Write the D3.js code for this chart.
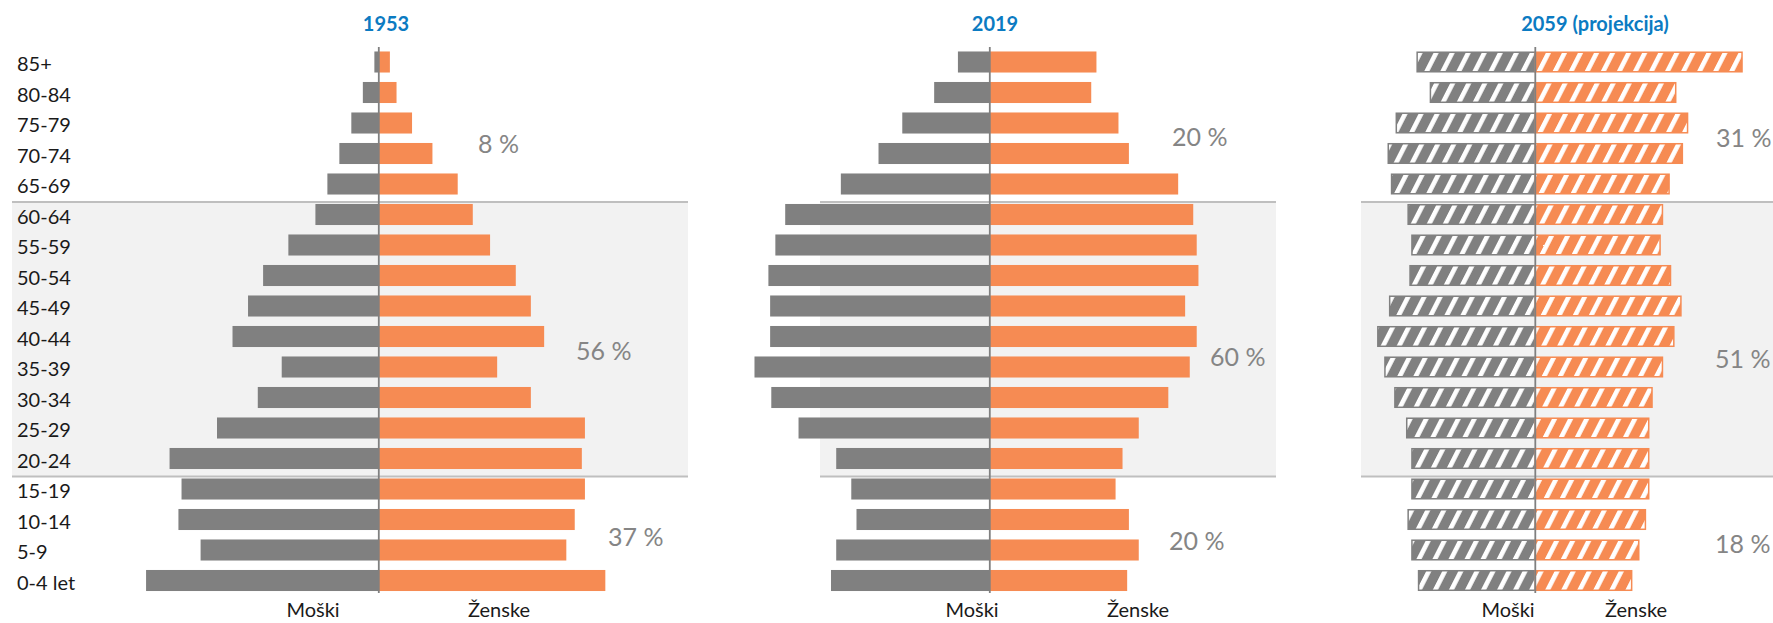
<!DOCTYPE html>
<html>
<head>
<meta charset="utf-8">
<script src="https://cdn.jsdelivr.net/npm/d3@7"></script>
<style>
  body { margin: 0; background: #fff; }
  svg { display: block; font-family: Lato, "Noto Sans", sans-serif; }
</style>
</head>
<body>
<svg id="chart" width="1773" height="623"></svg>
<script>
// starostne skupine, od najstarejše navzdol
const ageGroups = ["85+", "80-84", "75-79", "70-74", "65-69", "60-64", "55-59", "50-54", "45-49",
  "40-44", "35-39", "30-34", "25-29", "20-24", "15-19", "10-14", "5-9", "0-4 let"];
const years = ["1953", "2019", "2059 (projekcija)"];
const sexLabels = ["Moški", "Ženske"];

// delež prebivalstva (%), odčitano s slike
const male1953 = [0.10, 0.36, 0.62, 0.89, 1.16, 1.43, 2.04, 2.61, 2.95, 3.30, 2.19, 2.73, 3.65, 4.72, 4.45, 4.52, 4.02, 5.25];
const female1953 = [0.25, 0.40, 0.75, 1.21, 1.78, 2.12, 2.51, 3.09, 3.43, 3.73, 2.67, 3.43, 4.65, 4.58, 4.65, 4.42, 4.23, 5.11];
const male2019 = [0.55, 0.96, 1.51, 1.92, 2.57, 3.53, 3.70, 3.82, 3.79, 3.79, 4.06, 3.77, 3.30, 2.65, 2.39, 2.30, 2.65, 2.74];
const female2019 = [1.84, 1.75, 2.22, 2.40, 3.25, 3.51, 3.57, 3.60, 3.37, 3.57, 3.45, 3.08, 2.57, 2.29, 2.17, 2.40, 2.57, 2.37];
const male2059 = [2.51, 2.23, 2.95, 3.12, 3.05, 2.70, 2.62, 2.66, 3.09, 3.34, 3.19, 2.98, 2.73, 2.62, 2.62, 2.70, 2.62, 2.48];
const female2059 = [4.38, 2.98, 3.23, 3.12, 2.84, 2.70, 2.65, 2.87, 3.09, 2.94, 2.70, 2.48, 2.41, 2.41, 2.41, 2.34, 2.20, 2.05];

// deleži skupin 65+, 20-64, 0-19
const shares1953 = ["8 %", "56 %", "37 %"];
const shares2019 = ["20 %", "60 %", "20 %"];
const shares2059 = ["31 %", "51 %", "18 %"];

const GRAY = "#808080";
const ORANGE = "#f68b53";

const panels = [
  { title: years[0], male: male1953, female: female1953, shares: shares1953, hatch: false,
    cx: 378.8, ppx: 44.33, band: [12, 688], titleX: 386, sexX: [313, 499],
    shareX: [478, 576, 608], shareY: [144, 351, 537] },
  { title: years[1], male: male2019, female: female2019, shares: shares2019, hatch: false,
    cx: 989.8, ppx: 57.96, band: [820, 1276], titleX: 995, sexX: [972, 1138],
    shareX: [1172, 1210, 1169], shareY: [137, 357, 541] },
  { title: years[2], male: male2059, female: female2059, shares: shares2059, hatch: true,
    cx: 1535.3, ppx: 47.37, band: [1361, 1773], titleX: 1595, sexX: [1508, 1636],
    shareX: [1716, 1715, 1715], shareY: [138, 359, 544] },
];

const svg = d3.select("#chart");

const y = d3.scaleBand()
  .domain(ageGroups)
  .range([46.75, 595.75])
  .paddingInner(0.31)
  .paddingOuter(0.155);

function addHatch(id, color) {
  const p = svg.select("defs").append("pattern")
    .attr("id", id)
    .attr("patternUnits", "userSpaceOnUse")
    .attr("width", 14.3)
    .attr("height", 14.3)
    .attr("patternTransform", "rotate(27)");
  p.append("rect").attr("width", 14.3).attr("height", 14.3).attr("fill", color);
  p.append("rect").attr("x", 0).attr("width", 4.6).attr("height", 14.3).attr("fill", "#fff");
}

svg.append("defs");
addHatch("hatchM", GRAY);
addHatch("hatchF", ORANGE);

const lineTop = y("60-64") - 2;
const lineBottom = y("15-19") - 2;

function drawPanel(panel) {
  const g = svg.append("g");
  const maxPct = 6;
  const xMale = d3.scaleLinear().domain([0, maxPct]).range([panel.cx, panel.cx - maxPct * panel.ppx]);
  const xFemale = d3.scaleLinear().domain([0, maxPct]).range([panel.cx, panel.cx + maxPct * panel.ppx]);

  // siva podlaga za 20-64 let
  g.append("rect")
    .attr("x", panel.band[0])
    .attr("y", lineTop)
    .attr("width", panel.band[1] - panel.band[0])
    .attr("height", lineBottom - lineTop)
    .attr("fill", "#f2f2f2");

  g.selectAll("line.sep")
    .data([lineTop, lineBottom])
    .join("line")
    .attr("class", "sep")
    .attr("x1", panel.band[0])
    .attr("x2", panel.band[1])
    .attr("y1", (d) => d)
    .attr("y2", (d) => d)
    .attr("stroke", "#bfbfbf")
    .attr("stroke-width", 2);

  const inset = panel.hatch ? 0.75 : 0;

  g.selectAll("rect.male")
    .data(panel.male)
    .join("rect")
    .attr("class", "male")
    .attr("x", (d) => xMale(d) + inset)
    .attr("y", (d, i) => y(ageGroups[i]) + inset)
    .attr("width", (d) => panel.cx - xMale(d) - inset)
    .attr("height", y.bandwidth() - 2 * inset)
    .attr("fill", panel.hatch ? "url(#hatchM)" : GRAY)
    .attr("stroke", panel.hatch ? GRAY : "none")
    .attr("stroke-width", 1.5);

  g.selectAll("rect.female")
    .data(panel.female)
    .join("rect")
    .attr("class", "female")
    .attr("x", panel.cx)
    .attr("y", (d, i) => y(ageGroups[i]) + inset)
    .attr("width", (d) => xFemale(d) - panel.cx - inset)
    .attr("height", y.bandwidth() - 2 * inset)
    .attr("fill", panel.hatch ? "url(#hatchF)" : ORANGE)
    .attr("stroke", panel.hatch ? ORANGE : "none")
    .attr("stroke-width", 1.5);

  // navpična os
  g.append("line")
    .attr("x1", panel.cx)
    .attr("x2", panel.cx)
    .attr("y1", 47)
    .attr("y2", 593)
    .attr("stroke", GRAY)
    .attr("stroke-width", 1.8);

  g.append("text")
    .attr("x", panel.titleX)
    .attr("y", 31)
    .attr("text-anchor", "middle")
    .attr("font-size", 20)
    .attr("font-weight", "bold")
    .attr("fill", "#0b7bc2")
    .text(panel.title);

  g.selectAll("text.sex")
    .data(sexLabels)
    .join("text")
    .attr("class", "sex")
    .attr("x", (d, i) => panel.sexX[i])
    .attr("y", 617)
    .attr("text-anchor", "middle")
    .attr("font-size", 20)
    .attr("fill", "#1a1a1a")
    .text((d) => d);

  g.selectAll("text.share")
    .data(panel.shares)
    .join("text")
    .attr("class", "share")
    .attr("x", (d, i) => panel.shareX[i])
    .attr("y", (d, i) => panel.shareY[i])
    .attr("dy", "0.36em")
    .attr("font-size", 25)
    .attr("fill", "#858585")
    .text((d) => d);
}

panels.forEach(drawPanel);

// oznake starostnih skupin
svg.append("g")
  .selectAll("text")
  .data(ageGroups)
  .join("text")
  .attr("x", 17)
  .attr("y", (d) => y(d) + y.bandwidth() / 2 + 2)
  .attr("dy", "0.36em")
  .attr("font-size", 20)
  .attr("fill", "#1a1a1a")
  .text((d) => d);
</script>
</body>
</html>
